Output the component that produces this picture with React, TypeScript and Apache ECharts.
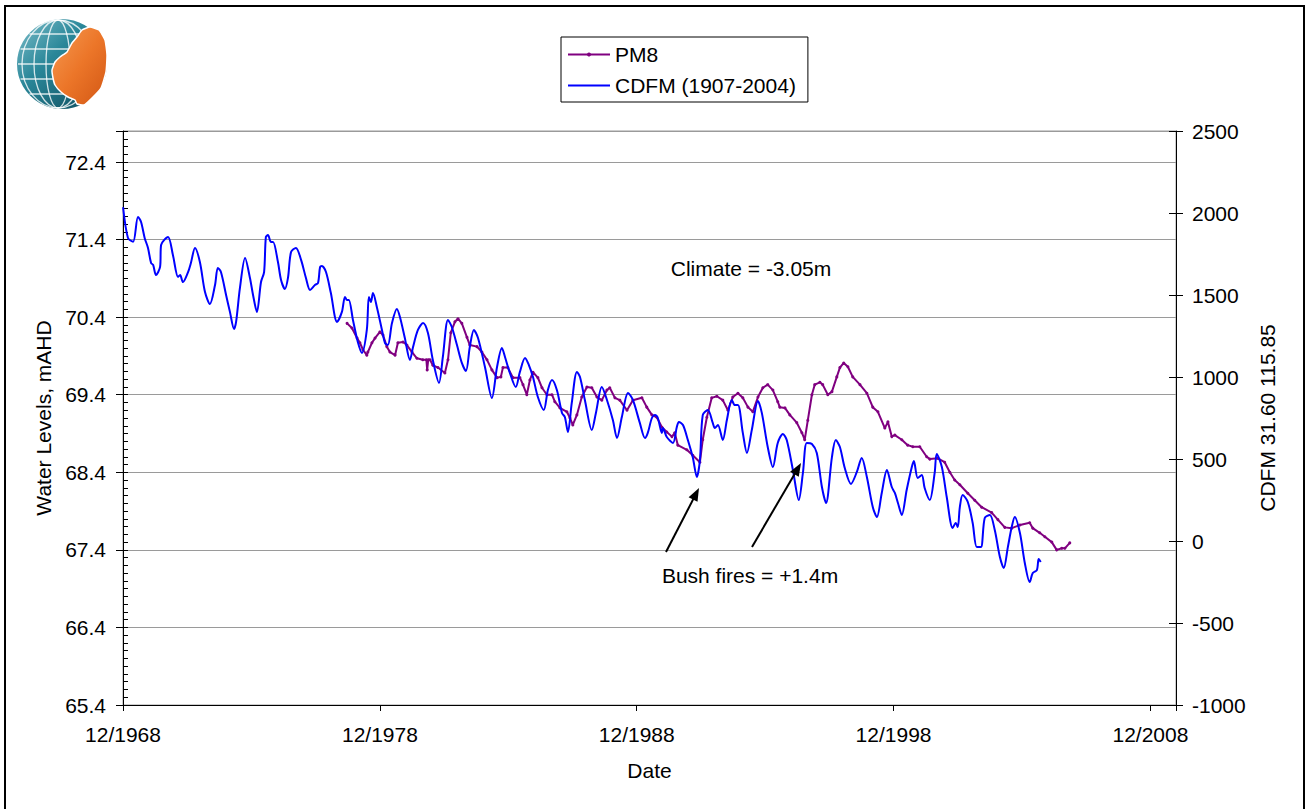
import React, { useEffect, useRef } from 'react';
import * as echarts from 'echarts';

const FONT = '"Liberation Sans", Arial, Helvetica, sans-serif';
const FS = 21;

// Date axis in decimal years (12/1968 .. 12/2009)
const X_MIN = 1968 + 11 / 12;
const X_MAX = X_MIN + 41;
const X_INTERVAL = 10;

// Left axis (Water Levels, mAHD)
const LEFT_MIN = 65.4;
const LEFT_MAX = 72.8;
const LEFT_INTERVAL = 1;

// Right axis (CDFM)
const RIGHT_MIN = -1000;
const RIGHT_MAX = 2500;
const RIGHT_INTERVAL = 500;

const legendNames = ['PM8', 'CDFM (1907-2004)'];

// PM8 water level (mAHD) — [decimal year, level]
const pm8: [number, number][] = [
  [1977.64, 70.32], [1977.83, 70.26], [1978.03, 70.13], [1978.14, 70.07], [1978.26, 69.98], [1978.41, 69.91],
  [1978.45, 69.95], [1978.61, 70.07], [1978.73, 70.13], [1978.92, 70.21], [1979.04, 70.17], [1979.19, 70.02],
  [1979.31, 69.95], [1979.51, 69.91], [1979.62, 70.07], [1979.82, 70.08], [1979.97, 70.04], [1980.17, 69.95],
  [1980.36, 69.87], [1980.59, 69.85], [1980.73, 69.85], [1980.76, 69.72], [1980.80, 69.85], [1980.87, 69.85],
  [1980.98, 69.78], [1981.18, 69.75], [1981.45, 69.68], [1981.57, 69.85], [1981.68, 70.20], [1981.84, 70.34],
  [1981.96, 70.38], [1982.11, 70.32], [1982.31, 70.14], [1982.42, 70.04], [1982.70, 70.02], [1982.89, 69.95],
  [1983.09, 69.85], [1983.28, 69.72], [1983.48, 69.62], [1983.63, 69.63], [1983.71, 69.75], [1983.90, 69.75],
  [1984.10, 69.62], [1984.37, 69.62], [1984.49, 69.53], [1984.64, 69.40], [1984.76, 69.59], [1984.88, 69.69],
  [1985.07, 69.62], [1985.23, 69.49], [1985.42, 69.40], [1985.62, 69.40], [1985.73, 69.31], [1985.93, 69.23],
  [1986.20, 69.18], [1986.32, 69.10], [1986.43, 69.01], [1986.59, 69.14], [1986.78, 69.37], [1986.98, 69.50],
  [1987.17, 69.49], [1987.37, 69.37], [1987.56, 69.33], [1987.76, 69.46], [1987.87, 69.49], [1988.07, 69.36],
  [1988.26, 69.33], [1988.54, 69.20], [1988.77, 69.33], [1989.12, 69.36], [1989.31, 69.24], [1989.51, 69.14],
  [1989.70, 69.11], [1989.90, 68.98], [1990.09, 68.92], [1990.29, 68.86], [1990.40, 68.91], [1990.52, 68.75],
  [1990.87, 68.69], [1991.10, 68.62], [1991.38, 68.53], [1991.49, 68.82], [1991.65, 69.11], [1991.84, 69.36],
  [1992.04, 69.38], [1992.27, 69.33], [1992.47, 69.20], [1992.66, 69.37], [1992.86, 69.42], [1993.05, 69.36],
  [1993.25, 69.24], [1993.44, 69.18], [1993.64, 69.37], [1993.83, 69.49], [1994.02, 69.53], [1994.22, 69.46],
  [1994.41, 69.31], [1994.49, 69.24], [1994.69, 69.23], [1994.88, 69.14], [1995.15, 69.04], [1995.35, 68.91],
  [1995.46, 68.82], [1995.58, 69.07], [1995.74, 69.40], [1995.85, 69.53], [1996.05, 69.56], [1996.16, 69.53],
  [1996.36, 69.40], [1996.52, 69.44], [1996.71, 69.63], [1996.83, 69.75], [1996.98, 69.81], [1997.14, 69.76],
  [1997.33, 69.63], [1997.61, 69.53], [1997.88, 69.42], [1998.11, 69.24], [1998.31, 69.18], [1998.58, 68.97],
  [1998.70, 69.05], [1998.85, 68.86], [1998.97, 68.88], [1999.24, 68.82], [1999.47, 68.75], [1999.67, 68.73],
  [1999.94, 68.73], [2000.21, 68.60], [2000.33, 68.57], [2000.64, 68.58], [2000.91, 68.53], [2001.11, 68.40],
  [2001.30, 68.30], [2001.50, 68.24], [2001.81, 68.13], [2002.08, 68.04], [2002.35, 67.95], [2002.74, 67.88],
  [2002.98, 67.79], [2003.25, 67.69], [2003.52, 67.68], [2003.84, 67.72], [2004.22, 67.75], [2004.34, 67.68],
  [2004.61, 67.62], [2004.81, 67.57], [2005.08, 67.50], [2005.27, 67.40], [2005.47, 67.42], [2005.59, 67.42],
  [2005.78, 67.49],
];

// CDFM (1907-2004) — [decimal year, cumulative deviation from mean rainfall]
const cdfm: [number, number][] = [
  [1968.92, 2035], [1969.11, 1848], [1969.31, 1825], [1969.50, 1976], [1969.62, 1945], [1969.76, 1848],
  [1969.89, 1787], [1970.01, 1695], [1970.09, 1683], [1970.20, 1622], [1970.36, 1671], [1970.40, 1805],
  [1970.67, 1854], [1970.86, 1744], [1971.06, 1610], [1971.14, 1622], [1971.25, 1579], [1971.45, 1640],
  [1971.56, 1695], [1971.72, 1787], [1971.91, 1701], [1972.11, 1518], [1972.30, 1445], [1972.50, 1561],
  [1972.61, 1665], [1972.73, 1640], [1972.93, 1500], [1973.08, 1397], [1973.24, 1293], [1973.32, 1336],
  [1973.47, 1543], [1973.67, 1726], [1973.86, 1604], [1973.98, 1500], [1974.13, 1397], [1974.29, 1579],
  [1974.41, 1640], [1974.48, 1854], [1974.56, 1866], [1974.68, 1823], [1974.76, 1823], [1974.95, 1701],
  [1975.07, 1592], [1975.22, 1537], [1975.34, 1604], [1975.46, 1762], [1975.65, 1787], [1975.85, 1714],
  [1976.04, 1604], [1976.20, 1531], [1976.39, 1561], [1976.51, 1573], [1976.59, 1671], [1976.66, 1677],
  [1976.82, 1640], [1977.01, 1512], [1977.25, 1336], [1977.44, 1397], [1977.56, 1488], [1977.64, 1470],
  [1977.71, 1470], [1977.87, 1348], [1978.06, 1214], [1978.22, 1147], [1978.41, 1287], [1978.49, 1488],
  [1978.57, 1458], [1978.65, 1512], [1978.80, 1427], [1979.00, 1287], [1979.12, 1207], [1979.23, 1195],
  [1979.39, 1329], [1979.58, 1415], [1979.70, 1366], [1979.89, 1238], [1980.09, 1104], [1980.21, 1183],
  [1980.40, 1287], [1980.60, 1329], [1980.79, 1268], [1980.98, 1104], [1981.22, 964], [1981.37, 1122],
  [1981.57, 1348], [1981.72, 1305], [1981.92, 1195], [1982.11, 1086], [1982.27, 1037], [1982.42, 1183],
  [1982.58, 1287], [1982.74, 1238], [1983.01, 1061], [1983.28, 872], [1983.48, 1061], [1983.67, 1177],
  [1983.79, 1122], [1983.98, 1025], [1984.21, 939], [1984.37, 1031], [1984.57, 1116], [1984.72, 1073],
  [1984.88, 1000], [1985.07, 878], [1985.30, 799], [1985.46, 921], [1985.62, 982], [1985.81, 921],
  [1986.01, 781], [1986.12, 756], [1986.24, 665], [1986.39, 842], [1986.59, 1031], [1986.71, 1000],
  [1986.90, 860], [1987.17, 677], [1987.33, 781], [1987.56, 939], [1987.76, 860], [1987.99, 738],
  [1988.15, 628], [1988.34, 756], [1988.58, 903], [1988.77, 860], [1989.04, 720], [1989.24, 628],
  [1989.35, 659], [1989.51, 750], [1989.63, 768], [1989.74, 750], [1989.90, 659], [1989.94, 689],
  [1990.09, 634], [1990.33, 598], [1990.48, 695], [1990.56, 726], [1990.72, 707], [1990.91, 616],
  [1991.10, 512], [1991.26, 390], [1991.38, 494], [1991.49, 768], [1991.69, 799], [1991.88, 720],
  [1991.96, 689], [1992.08, 707], [1992.27, 616], [1992.43, 738], [1992.62, 860], [1992.74, 829],
  [1992.86, 829], [1993.05, 659], [1993.21, 537], [1993.40, 677], [1993.64, 854], [1993.79, 781],
  [1994.02, 573], [1994.22, 451], [1994.41, 598], [1994.61, 653], [1994.76, 616], [1995.00, 433],
  [1995.23, 250], [1995.39, 415], [1995.54, 598], [1995.74, 592], [1995.93, 537], [1996.13, 329],
  [1996.29, 232], [1996.52, 512], [1996.67, 616], [1996.83, 573], [1997.02, 445], [1997.26, 348],
  [1997.49, 421], [1997.68, 506], [1997.88, 390], [1998.11, 207], [1998.27, 146], [1998.46, 293],
  [1998.66, 433], [1998.85, 329], [1998.97, 293], [1999.09, 232], [1999.24, 159], [1999.43, 311],
  [1999.63, 451], [1999.71, 488], [1999.86, 384], [2000.02, 403], [2000.13, 323], [2000.33, 250],
  [2000.52, 415], [2000.60, 531], [2000.80, 451], [2000.99, 268], [2001.22, 79], [2001.34, 110],
  [2001.42, 85], [2001.50, 207], [2001.61, 281], [2001.81, 238], [2002.00, 110], [2002.16, -37],
  [2002.32, -37], [2002.47, 140], [2002.67, 159], [2002.86, 67], [2003.06, -98], [2003.21, -165],
  [2003.37, -37], [2003.52, 85], [2003.64, 146], [2003.84, 49], [2004.03, -134], [2004.22, -250],
  [2004.34, -195], [2004.50, -177], [2004.57, -110], [2004.65, -128],
];

const annotations = ['Climate = -3.05m', 'Bush fires = +1.4m'];

const BLACK = '#000000';
const GRID_GRAY = '#9a9a9a';

function arrowHead(x1: number, y1: number, x2: number, y2: number, len: number, half: number) {
  const dx = x2 - x1;
  const dy = y2 - y1;
  const l = Math.sqrt(dx * dx + dy * dy);
  const ux = dx / l;
  const uy = dy / l;
  const bx = x2 - ux * len;
  const by = y2 - uy * len;
  return [
    [x2, y2],
    [bx - uy * half, by + ux * half],
    [bx + uy * half, by - ux * half],
  ];
}

function buildGraphics() {
  const els: any[] = [];
  // outer frame
  els.push({
    type: 'rect', z: 100, silent: true,
    shape: { x: 5, y: 6, width: 1299, height: 812 },
    style: { fill: 'none', stroke: BLACK, lineWidth: 2 },
  });
  // logo: globe
  const cx = 62, cy = 64, r = 45;
  els.push({
    type: 'circle', z: 100, shape: { cx, cy, r },
    style: {
      fill: { type: 'linear', x: 0, y: 0, x2: 1, y2: 1, colorStops: [
        { offset: 0, color: '#7fbfcb' }, { offset: 0.4, color: '#2a8799' }, { offset: 1, color: '#0a4657' },
      ] },
    },
  });
  [36, 24, 12].forEach((rx) => {
    els.push({ type: 'ellipse', z: 101, shape: { cx: cx - 4, cy, rx, ry: r - 1 }, style: { fill: 'none', stroke: 'rgba(255,255,255,0.8)', lineWidth: 1.3 } });
  });
  [-30, -15, 0, 15, 30].forEach((dy) => {
    const h = Math.sqrt(r * r - dy * dy);
    els.push({ type: 'line', z: 101, shape: { x1: cx - h + 1, y1: cy + dy, x2: cx + h - 1, y2: cy + dy }, style: { stroke: 'rgba(255,255,255,0.8)', lineWidth: 1.3 } });
  });
  // logo: orange continent
  els.push({
    type: 'polygon', z: 102,
    shape: {
      smooth: 0.15,
      points: [[77, 37], [82, 30], [90, 27], [99, 30], [105, 40], [107, 55], [106, 72], [101, 88], [92, 98], [84, 105],
        [77, 104], [75, 100], [68, 97], [61, 92], [55, 85], [53, 78], [52, 70], [55, 62], [60, 57], [67, 52], [72, 43]],
    },
    style: {
      fill: { type: 'linear', x: 0, y: 0, x2: 1, y2: 1, colorStops: [
        { offset: 0, color: '#f59a52' }, { offset: 0.5, color: '#ec7629' }, { offset: 1, color: '#d25714' },
      ] },
      stroke: '#ffffff', lineWidth: 1.5,
    },
  });
  // annotations
  els.push({
    type: 'text', z: 50, x: 751, y: 268,
    style: { text: annotations[0], fontSize: FS, fontFamily: FONT, fill: BLACK, align: 'center', verticalAlign: 'middle' },
  });
  els.push({
    type: 'text', z: 50, x: 750, y: 575,
    style: { text: annotations[1], fontSize: FS, fontFamily: FONT, fill: BLACK, align: 'center', verticalAlign: 'middle' },
  });
  const arrows = [
    [666, 552, 699, 488],
    [752, 547, 801, 463],
  ];
  arrows.forEach(([x1, y1, x2, y2]) => {
    const head = arrowHead(x1, y1, x2, y2, 13, 5);
    const dx = x2 - x1, dy = y2 - y1, l = Math.sqrt(dx * dx + dy * dy);
    els.push({
      type: 'line', z: 50,
      shape: { x1, y1, x2: x2 - (dx / l) * 10, y2: y2 - (dy / l) * 10 },
      style: { stroke: BLACK, lineWidth: 2 },
    });
    els.push({ type: 'polygon', z: 50, shape: { points: head }, style: { fill: BLACK } });
  });
  return els;
}

export default function App() {
  const ref = useRef<HTMLDivElement>(null);
  useEffect(() => {
    if (!ref.current) return;
    const chart = echarts.init(ref.current, null, { renderer: 'svg' });
    const axisText = { fontSize: FS, color: BLACK, fontFamily: FONT };
    const option: any = {
      animation: false,
      backgroundColor: '#ffffff',
      textStyle: { fontFamily: FONT },
      grid: {
        left: 123, right: 135, top: 131, bottom: 104,
        show: true, borderColor: GRID_GRAY, borderWidth: 1, backgroundColor: 'transparent',
      },
      legend: {
        orient: 'vertical',
        left: 561, top: 37,
        data: [
          { name: legendNames[0] },
          { name: legendNames[1], icon: 'path://M0,0L42,0L42,2L0,2Z' },
        ],
        backgroundColor: '#ffffff',
        borderColor: BLACK, borderWidth: 1,
        padding: [7, 12, 6, 6],
        itemGap: 10,
        itemWidth: 42, itemHeight: 5,
        textStyle: { fontSize: FS, color: BLACK, fontFamily: FONT },
      },
      xAxis: {
        type: 'value',
        min: X_MIN, max: X_MAX, interval: X_INTERVAL,
        name: 'Date', nameLocation: 'middle', nameGap: 55,
        nameTextStyle: axisText,
        axisLine: { show: true, onZero: false, lineStyle: { color: BLACK, width: 1 } },
        axisTick: { show: true, length: 6, lineStyle: { color: BLACK } },
        axisLabel: {
          ...axisText, margin: 19,
          formatter: (v: number) => {
            const k = (v - X_MIN) / X_INTERVAL;
            if (Math.abs(k - Math.round(k)) > 0.01) return '';
            return '12/' + Math.round(v - 11 / 12);
          },
        },
        splitLine: { show: false },
      },
      yAxis: [
        {
          type: 'value', position: 'left',
          min: LEFT_MIN, max: LEFT_MAX, interval: LEFT_INTERVAL,
          name: 'Water Levels, mAHD', nameLocation: 'middle', nameGap: 69, nameTextStyle: axisText,
          axisLine: { show: true, lineStyle: { color: BLACK } },
          axisTick: { show: true, length: 7, lineStyle: { color: BLACK } },
          axisLabel: {
            ...axisText, margin: 17,
            formatter: (v: number) => (Math.abs(v - LEFT_MAX) < 1e-6 ? '' : v.toFixed(1)),
          },
          splitLine: { show: true, lineStyle: { color: GRID_GRAY, width: 1 } },
        },
        {
          type: 'value', position: 'right',
          min: RIGHT_MIN, max: RIGHT_MAX, interval: RIGHT_INTERVAL,
          name: 'CDFM 31.60 115.85', nameLocation: 'middle', nameGap: 79, nameRotate: 90, nameTextStyle: axisText,
          axisLine: { show: true, lineStyle: { color: BLACK } },
          axisTick: { show: true, length: 7, lineStyle: { color: BLACK } },
          axisLabel: { ...axisText, margin: 16, formatter: (v: number) => String(Math.round(v)) },
          splitLine: { show: false },
        },
        {
          // minor inside ticks of the left axis
          type: 'value', position: 'left',
          min: LEFT_MIN, max: LEFT_MAX, interval: 0.1,
          axisLine: { show: false },
          axisTick: { show: true, inside: true, length: 5, lineStyle: { color: BLACK } },
          axisLabel: { show: false },
          splitLine: { show: false },
        },
        {
          // inside half of the crossing ticks of the right axis
          type: 'value', position: 'right',
          min: RIGHT_MIN, max: RIGHT_MAX, interval: RIGHT_INTERVAL,
          axisLine: { show: false },
          axisTick: { show: true, inside: true, length: 7, lineStyle: { color: BLACK } },
          axisLabel: { show: false },
          splitLine: { show: false },
        },
      ],
      series: [
        {
          name: legendNames[0], type: 'line', xAxisIndex: 0, yAxisIndex: 0,
          data: pm8,
          symbol: 'circle', symbolSize: 3, showSymbol: true,
          lineStyle: { color: '#800080', width: 2 },
          itemStyle: { color: '#800080' },
          z: 3,
        },
        {
          name: legendNames[1], type: 'line', xAxisIndex: 0, yAxisIndex: 1,
          data: cdfm,
          symbol: 'none', showSymbol: false, smooth: 0.3,
          lineStyle: { color: '#0000ff', width: 2 },
          itemStyle: { color: '#0000ff' },
          z: 4,
        },
      ],
      graphic: buildGraphics(),
    };
    chart.setOption(option);
    return () => chart.dispose();
  }, []);
  return (
    <div
      ref={ref}
      style={{ position: 'fixed', left: 0, top: 0, width: 1311, height: 809, background: '#ffffff' }}
    />
  );
}
